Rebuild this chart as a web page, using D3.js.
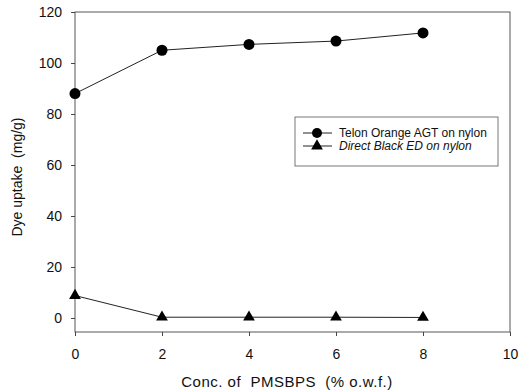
<!DOCTYPE html>
<meta charset="utf-8">
<style>
body { margin: 0; background: #fff; }
text { font-family: "Liberation Sans", Arial, sans-serif; fill: #111; white-space: pre; }
</style>
<svg width="521" height="392"></svg>
<script src="https://d3js.org/d3.v7.min.js"></script>
<script>
var conc = [0, 2, 4, 6, 8];
var orange = [88.0, 105.0, 107.3, 108.6, 111.8];
var black = [8.8, 0.3, 0.3, 0.3, 0.2];
var xTicks = [0, 2, 4, 6, 8, 10];
var yTicks = [0, 20, 40, 60, 80, 100, 120];

var svg = d3.select("svg");
var pLeft = 75, pRight = 510, pTop = 12, pBottom = 332;

var x = d3.scaleLinear().domain([0, 10]).range([pLeft, pRight]);
var y = d3.scaleLinear().domain([-5.5, 120]).range([pBottom, pTop]);

// frame
svg.append("rect")
    .attr("x", pLeft).attr("y", pTop)
    .attr("width", pRight - pLeft).attr("height", pBottom - pTop)
    .attr("fill", "none").attr("stroke", "#444").attr("stroke-width", 0.9);

var xAxis = svg.append("g")
    .attr("transform", "translate(0," + pBottom + ")")
    .call(d3.axisBottom(x).tickValues(xTicks).tickSize(4).tickPadding(13));
var yAxis = svg.append("g")
    .attr("transform", "translate(" + pLeft + ",0)")
    .call(d3.axisLeft(y).tickValues(yTicks).tickSize(4).tickPadding(9));

[xAxis, yAxis].forEach(function(g) {
  g.select(".domain").remove();
  g.selectAll("line").attr("stroke", "#444");
  g.selectAll("text").attr("font-size", 14).attr("fill", "#111");
});

svg.append("text")
    .attr("x", 287).attr("y", 387)
    .attr("text-anchor", "middle").attr("font-size", 15)
    .attr("letter-spacing", 0.5)
    .text("Conc. of  PMSBPS  (% o.w.f.)");
svg.append("text")
    .attr("transform", "translate(22,177) rotate(-90)")
    .attr("text-anchor", "middle").attr("font-size", 14)
    .text("Dye uptake  (mg/g)");

var line = d3.line()
    .x(function(d) { return x(d[0]); })
    .y(function(d) { return y(d[1]); });

var orangePts = d3.zip(conc, orange);
var blackPts = d3.zip(conc, black);

svg.append("path").datum(orangePts).attr("d", line)
    .attr("fill", "none").attr("stroke", "#222").attr("stroke-width", 1);
svg.append("path").datum(blackPts).attr("d", line)
    .attr("fill", "none").attr("stroke", "#222").attr("stroke-width", 1);

svg.selectAll(".dot").data(orangePts).enter().append("circle")
    .attr("class", "dot")
    .attr("cx", function(d) { return x(d[0]); })
    .attr("cy", function(d) { return y(d[1]); })
    .attr("r", 5.5).attr("fill", "#000");

var tri = d3.symbol().type(d3.symbolTriangle).size(60);
svg.selectAll(".tri").data(blackPts).enter().append("path")
    .attr("class", "tri")
    .attr("transform", function(d) { return "translate(" + x(d[0]) + "," + y(d[1]) + ")"; })
    .attr("d", tri).attr("fill", "#000");

// legend
var lg = svg.append("g");
lg.append("rect").attr("x", 295).attr("y", 117).attr("width", 203).attr("height", 49)
    .attr("fill", "#fff").attr("stroke", "#555").attr("stroke-width", 0.8);
var entries = [
  {label: "Telon Orange AGT on nylon", shape: "circle", italic: false},
  {label: "Direct Black ED on nylon", shape: "tri", italic: true}
];
entries.forEach(function(e, i) {
  var yy = 133 + i * 13;
  lg.append("line").attr("x1", 303).attr("x2", 332).attr("y1", yy).attr("y2", yy)
      .attr("stroke", "#222");
  if (e.shape === "circle") {
    lg.append("circle").attr("cx", 317).attr("cy", yy).attr("r", 5).attr("fill", "#000");
  } else {
    lg.append("path").attr("transform", "translate(317," + yy + ")")
        .attr("d", tri).attr("fill", "#000");
  }
  lg.append("text").attr("x", 339).attr("y", yy + 4).attr("font-size", 12)
      .attr("font-style", e.italic ? "italic" : "normal").text(e.label);
});
</script>
